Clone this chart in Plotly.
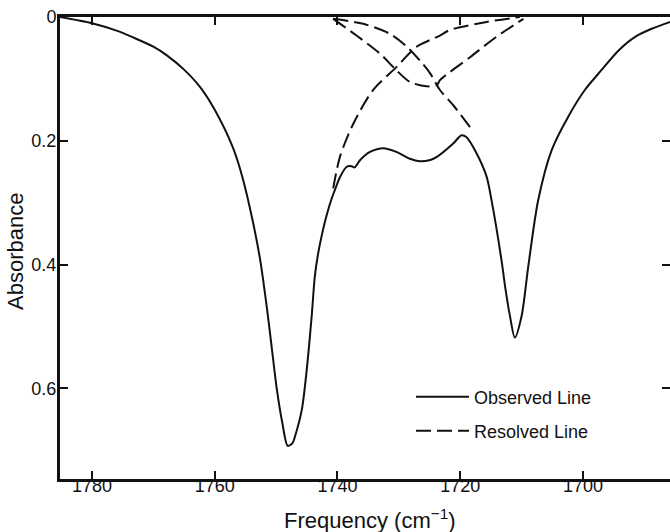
import plotly.graph_objects as go

# Observed line (frequency in cm^-1, absorbance)
obs_freq = [1785.2, 1780.0, 1776.0, 1773.3, 1770.0, 1767.8, 1765.0, 1762.4, 1760.0, 1757.0,
            1755.4, 1753.8, 1752.6, 1751.5, 1750.7, 1749.9, 1749.0, 1748.1, 1747.3, 1746.9,
            1745.8, 1745.0, 1744.2, 1743.7, 1743.2, 1742.5, 1741.7, 1740.9, 1740.4, 1739.6,
            1738.5, 1737.7, 1737.2, 1736.3, 1734.7, 1732.5, 1730.4, 1728.2, 1726.6, 1724.9,
            1723.8, 1721.1, 1719.8, 1719.0, 1717.3, 1715.7, 1714.9, 1713.2, 1712.7, 1711.9,
            1711.1, 1710.0, 1708.9, 1707.3, 1705.1, 1702.4, 1699.7, 1697.0, 1694.2, 1691.5,
            1688.8, 1685.5]
obs_abs = [0.000, 0.010, 0.022, 0.033, 0.048, 0.062, 0.085, 0.113, 0.150, 0.212,
           0.262, 0.330, 0.392, 0.470, 0.535, 0.600, 0.655, 0.693, 0.688, 0.677,
           0.634, 0.569, 0.483, 0.420, 0.385, 0.350, 0.318, 0.292, 0.279, 0.259,
           0.242, 0.241, 0.243, 0.231, 0.218, 0.212, 0.218, 0.229, 0.233, 0.231,
           0.226, 0.204, 0.191, 0.194, 0.221, 0.258, 0.296, 0.398, 0.435, 0.483,
           0.518, 0.483, 0.402, 0.296, 0.215, 0.161, 0.118, 0.086, 0.054, 0.032,
           0.019, 0.007]

# Resolved lines
res1_freq = [1740.7, 1736.9, 1733.1, 1730.4, 1728.2, 1725.5, 1723.8, 1723.3, 1718.4, 1714.1, 1709.7]
res1_abs = [0.003, 0.030, 0.059, 0.086, 0.105, 0.112, 0.110, 0.102, 0.065, 0.032, 0.003]

res2_freq = [1740.7, 1735.8, 1731.5, 1728.7, 1726.6, 1724.9, 1723.3, 1721.1, 1718.4]
res2_abs = [0.003, 0.011, 0.027, 0.048, 0.070, 0.091, 0.118, 0.143, 0.178]

res3_freq = [1740.7, 1739.6, 1737.4, 1734.2, 1730.4, 1727.1, 1723.3, 1721.7, 1715.7, 1710.3]
res3_abs = [0.277, 0.226, 0.172, 0.118, 0.081, 0.048, 0.030, 0.021, 0.008, 0.000]

x_ticks = [1780, 1760, 1740, 1720, 1700]
y_ticks = [0, 0.2, 0.4, 0.6]

FONT = "Liberation Sans, Arial, sans-serif"
INK = "#111111"
DASH = "15px,6px"
Y_RANGE = [0.7465, 0]

fig = go.Figure()
fig.add_trace(go.Scatter(x=obs_freq, y=obs_abs, mode="lines", name="Observed Line",
                         line=dict(color=INK, width=2, shape="spline", smoothing=0.8),
                         legend="legend"))
fig.add_trace(go.Scatter(x=res1_freq, y=res1_abs, mode="lines", name="Resolved Line",
                         line=dict(color=INK, width=2, dash=DASH, shape="spline", smoothing=0.8),
                         legend="legend2", legendgroup="res"))
fig.add_trace(go.Scatter(x=res2_freq, y=res2_abs, mode="lines", name="Resolved Line",
                         line=dict(color=INK, width=2, dash=DASH, shape="spline", smoothing=0.8),
                         legend="legend2", legendgroup="res", showlegend=False))
fig.add_trace(go.Scatter(x=res3_freq, y=res3_abs, mode="lines", name="Resolved Line",
                         line=dict(color=INK, width=2, dash=DASH, shape="spline", smoothing=0.8),
                         legend="legend2", legendgroup="res", showlegend=False))
# empty trace so the right-hand tick axis (ticks only, no line) is drawn
fig.add_trace(go.Scatter(x=[], y=[], yaxis="y2", showlegend=False, hoverinfo="skip"))

fig.update_layout(
    width=670, height=532,
    margin=dict(l=60, r=0, t=17, b=53, autoexpand=False),
    paper_bgcolor="white", plot_bgcolor="white",
    showlegend=True,
    font=dict(family=FONT, color=INK, size=18),
    legend=dict(x=(411 - 60) / 610, y=0.1775, xanchor="left", yanchor="middle",
                font=dict(size=18, family=FONT, color=INK),
                bgcolor="rgba(0,0,0,0)", itemwidth=53),
    legend2=dict(x=(411 - 60) / 610, y=0.104, xanchor="left", yanchor="middle",
                 font=dict(size=18, family=FONT, color=INK),
                 bgcolor="rgba(0,0,0,0)", itemwidth=53),
    xaxis=dict(range=[1785.21, 1685.82], tickvals=x_ticks, ticks="inside", ticklen=8,
               tickwidth=2, tickcolor=INK, showline=True, linewidth=3, linecolor=INK,
               mirror="ticks", showgrid=False, zeroline=False, automargin=False,
               tickfont=dict(size=18, family=FONT), ticklabelstandoff=-12),
    yaxis=dict(range=Y_RANGE, tickvals=y_ticks, ticks="inside", ticklen=8,
               tickwidth=2, tickcolor=INK, showline=True, linewidth=3, linecolor=INK,
               mirror=False, showgrid=False, zeroline=False, automargin=False,
               tickfont=dict(size=18, family=FONT), ticklabelstandoff=-3),
    yaxis2=dict(range=Y_RANGE, matches="y", overlaying="y", side="right",
                tickvals=y_ticks, ticks="inside", ticklen=8, tickwidth=2, tickcolor=INK,
                showline=False, showgrid=False, zeroline=False, showticklabels=False,
                automargin=False),
    annotations=[
        dict(text="Frequency (cm<sup>−1</sup>)", xref="paper", yref="paper",
             x=(370 - 60) / 610, y=(479 - 519) / 462, xanchor="center", yanchor="middle",
             showarrow=False, font=dict(size=22, family=FONT, color=INK)),
        dict(text="Absorbance", xref="paper", yref="paper",
             x=(16 - 60) / 610, y=(479 - 252) / 462, xanchor="center", yanchor="middle",
             textangle=-90, showarrow=False, font=dict(size=22, family=FONT, color=INK)),
    ],
)

# Remove the default 8px page margin so the figure sits at the window's top-left corner.
fig.write_html("out.html", config={"displayModeBar": False},
               post_script="document.body.style.margin='0';")
